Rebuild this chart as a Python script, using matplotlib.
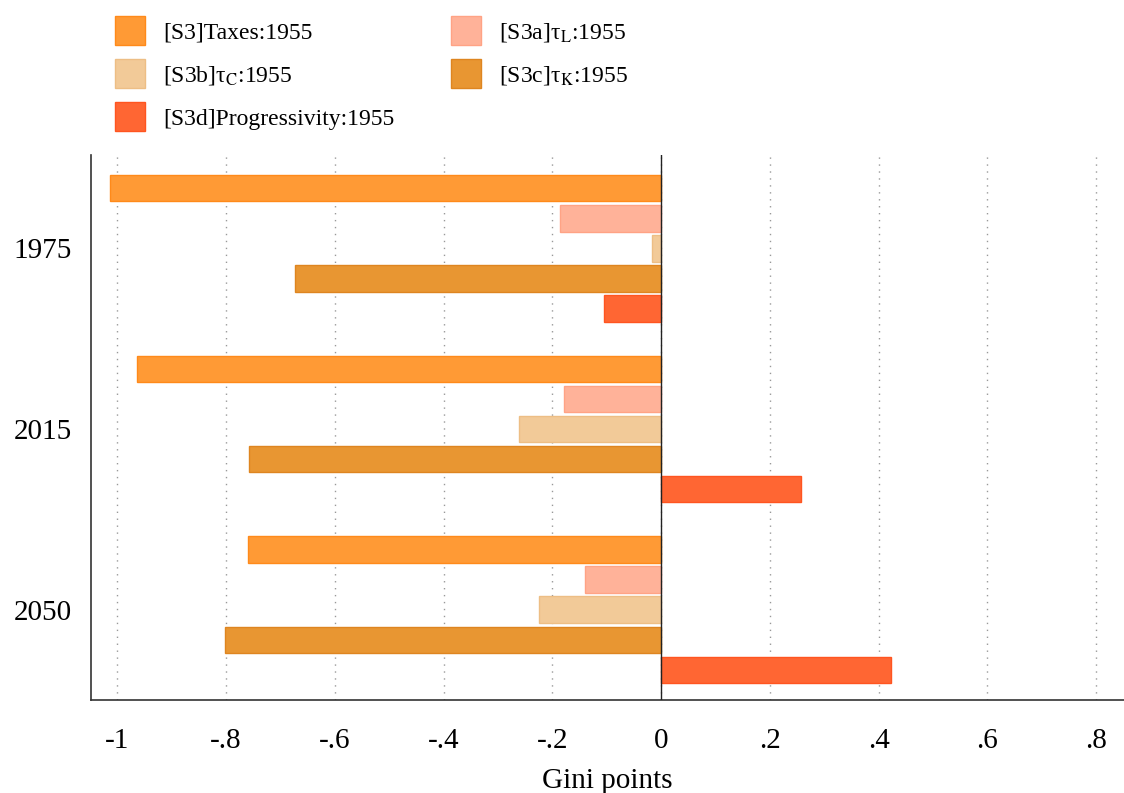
import numpy as np
import matplotlib
matplotlib.use("Agg")
import matplotlib.pyplot as plt
from matplotlib.patches import Patch

plt.rcParams['font.family'] = ['Liberation Serif', 'DejaVu Serif']
plt.rcParams['mathtext.fontset'] = 'stix'

years = ['1975', '2015', '2050']
series = ['[S3]Taxes:1955',
          r'[S3a]τ$_{\mathrm{L}}$:1955',
          r'[S3b]τ$_{\mathrm{C}}$:1955',
          r'[S3c]τ$_{\mathrm{K}}$:1955',
          '[S3d]Progressivity:1955']

taxes = [-1.013, -0.963, -0.759]
tau_l = [-0.186, -0.178, -0.140]
tau_c = [-0.017, -0.261, -0.224]
tau_k = [-0.673, -0.757, -0.801]
progressivity = [-0.105, 0.257, 0.423]

xticks = [-1, -0.8, -0.6, -0.4, -0.2, 0, 0.2, 0.4, 0.6, 0.8]
xtick_labels = ['-1', '-.8', '-.6', '-.4', '-.2', '0', '.2', '.4', '.6', '.8']

colors = ['#FF9A35', '#FFB299', '#F2CA98', '#E89632', '#FF6633']
edges = ['#FF8A1A', '#FFA385', '#EDBE85', '#DE8520', '#FF5520']

fig = plt.figure(figsize=(11.24, 7.93), dpi=100)
ax = fig.add_axes([0.081, 0.1173, 0.919, 0.6872])

values = [taxes, tau_l, tau_c, tau_k, progressivity]
centers = np.arange(len(years)) * 6
for i, vals in enumerate(values):
    ax.barh(centers + (i - 2), vals, height=0.88, color=colors[i],
            edgecolor=edges[i], linewidth=1.0, zorder=3)

ax.set_ylim(15.0, -3.1)
ax.set_xlim(-1.048, 0.851)
ax.set_yticks(centers)
ax.set_yticklabels(years, fontsize=21)
ax.set_xticks(xticks)
ax.set_xticklabels(xtick_labels, fontsize=21)
ax.tick_params(axis='both', length=0)
ax.tick_params(axis='x', pad=20)
ax.tick_params(axis='y', pad=14)

ax.grid(axis='x', linestyle=(0, (1, 4)), color='#999999', linewidth=1.0, zorder=0)
ax.axvline(0, color='#222222', linewidth=1.0, zorder=4)

for side in ['top', 'right']:
    ax.spines[side].set_visible(False)
for side in ['left', 'bottom']:
    ax.spines[side].set_color('#333333')
    ax.spines[side].set_linewidth(1.2)

ax.set_xlabel('Gini points', fontsize=21, labelpad=10)

# legend laid out row by row: column one gets items 0, 2, 4
order = [0, 2, 4, 1, 3]
handles = [Patch(facecolor=colors[i], edgecolor=edges[i], linewidth=1.0) for i in order]
labels = [series[i] for i in order]
fig.legend(handles, labels, ncol=2, loc='upper left',
           bbox_to_anchor=(0.0836, 1.006), frameon=False, fontsize=17,
           handlelength=1.27, handleheight=1.5, handletextpad=0.76,
           columnspacing=2.4, labelspacing=0.6)

fig.savefig('out.png', dpi=100)
